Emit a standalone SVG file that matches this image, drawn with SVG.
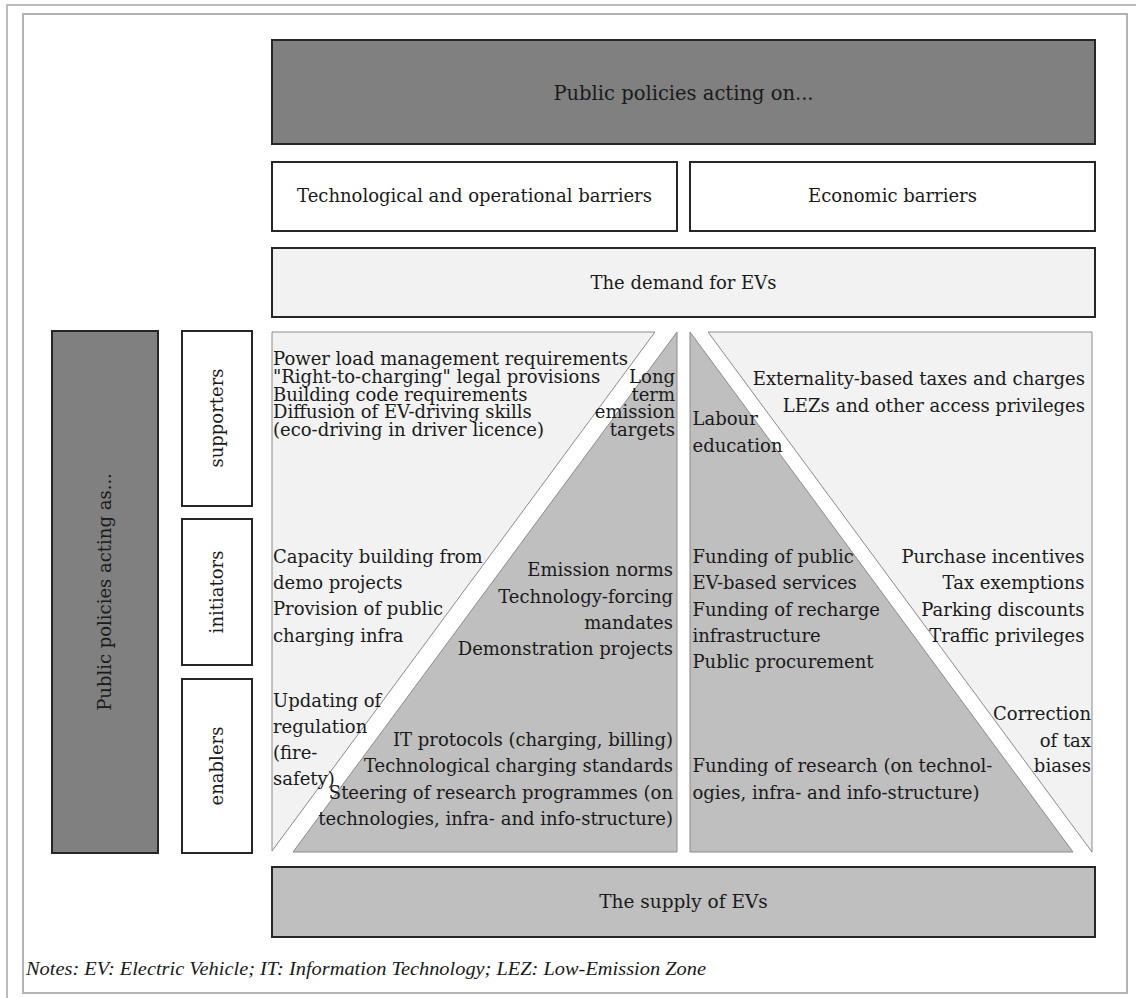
<svg xmlns="http://www.w3.org/2000/svg" width="1136" height="998" viewBox="0 0 1136 998">
<style>
.box{stroke:#262626;stroke-width:2}
.dark{fill:#808080}
.mid{fill:#bfbfbf}
.light{fill:#f2f2f2}
.white{fill:#ffffff}
.pl{fill:#f2f2f2;stroke:#8a8a8a;stroke-width:1}
.pd{fill:#bfbfbf;stroke:#8a8a8a;stroke-width:1}
text{font-family:"DejaVu Serif","Liberation Serif",serif;font-size:18px;fill:#1a1a1a}
.c{text-anchor:middle}
.r{text-anchor:end}
.big{font-size:19.5px}
.sup{font-size:18.5px}
.note{font-family:"Liberation Serif",serif;font-style:italic;font-size:18px}
</style>
<rect x="7" y="5" width="1140" height="1000" fill="#ffffff" stroke="#a6a6a6" stroke-width="1.5"/>
<rect x="23" y="14" width="1104" height="979" fill="#ffffff" stroke="#b3b3b3" stroke-width="2"/>

<g id="policies-on">
<rect class="box dark" x="272" y="40" width="823" height="104"/>
<text class="c big" x="683.5" y="99.5">Public policies acting on...</text>
</g>
<g id="tech-barriers">
<rect class="box white" x="272" y="162" width="405" height="69"/>
<text class="c" x="474.5" y="202">Technological and operational barriers</text>
</g>
<g id="econ-barriers">
<rect class="box white" x="690" y="162" width="405" height="69"/>
<text class="c" x="892.5" y="202">Economic barriers</text>
</g>
<g id="demand">
<rect class="box light" x="272" y="248" width="823" height="69"/>
<text class="c" x="683.5" y="288.5">The demand for EVs</text>
</g>

<g id="policies-as">
<rect class="box dark" x="52" y="331" width="106" height="522"/>
<text class="c" transform="translate(111,592) rotate(-90)">Public policies acting as...</text>
</g>
<g id="supporters">
<rect class="box white" x="182" y="331" width="70" height="175"/>
<text class="c" transform="translate(223,418) rotate(-90)">supporters</text>
</g>
<g id="initiators">
<rect class="box white" x="182" y="519" width="70" height="146"/>
<text class="c" transform="translate(223,592) rotate(-90)">initiators</text>
</g>
<g id="enablers">
<rect class="box white" x="182" y="679" width="70" height="174"/>
<text class="c" transform="translate(223,766) rotate(-90)">enablers</text>
</g>

<g id="left-panel">
<polygon class="pl" points="272,332 655,332 272,851"/>
<polygon class="pd" points="677,332 677,852 293,852"/>
<text x="273" y="365">Power load management requirements</text>
<text x="273" y="383">"Right-to-charging" legal provisions</text>
<text x="273" y="400.5">Building code requirements</text>
<text x="273" y="418">Diffusion of EV-driving skills</text>
<text x="273" y="435.5">(eco-driving in driver licence)</text>
<text class="r" x="675" y="383">Long</text>
<text class="r" x="675" y="400.5">term</text>
<text class="r" x="675" y="418">emission</text>
<text class="r" x="675" y="435.5">targets</text>
<text x="273" y="563">Capacity building from</text>
<text x="273" y="589">demo projects</text>
<text x="273" y="615">Provision of public</text>
<text x="273" y="641.5">charging infra</text>
<text class="r" x="673" y="576">Emission norms</text>
<text class="r" x="673" y="602.5">Technology-forcing</text>
<text class="r" x="673" y="628.5">mandates</text>
<text class="r" x="673" y="655">Demonstration projects</text>
<text x="273" y="706.5">Updating of</text>
<text x="273" y="732.5">regulation</text>
<text x="273" y="758.5">(fire-</text>
<text x="273" y="785">safety)</text>
<text class="r" x="673" y="746">IT protocols (charging, billing)</text>
<text class="r" x="673" y="772">Technological charging standards</text>
<text class="r" x="673" y="798.5">Steering of research programmes (on</text>
<text class="r" x="673" y="825">technologies, infra- and info-structure)</text>
</g>

<g id="right-panel">
<polygon class="pd" points="690,332 690,852 1073,852"/>
<polygon class="pl" points="708,332 1092,332 1092,852"/>
<text class="r" x="1085" y="385">Externality-based taxes and charges</text>
<text class="r" x="1085" y="411.5">LEZs and other access privileges</text>
<text x="692.5" y="425">Labour</text>
<text x="692.5" y="451.5">education</text>
<text x="692.5" y="563">Funding of public</text>
<text x="692.5" y="589">EV-based services</text>
<text x="692.5" y="616">Funding of recharge</text>
<text x="692.5" y="641.5">infrastructure</text>
<text x="692.5" y="668">Public procurement</text>
<text class="r" x="1084.5" y="563">Purchase incentives</text>
<text class="r" x="1084.5" y="589">Tax exemptions</text>
<text class="r" x="1084.5" y="616">Parking discounts</text>
<text class="r" x="1084.5" y="641.5">Traffic privileges</text>
<text class="r" x="1091" y="720">Correction</text>
<text class="r" x="1091" y="746.5">of tax</text>
<text class="r" x="1091" y="772">biases</text>
<text x="692.5" y="772">Funding of research (on technol-</text>
<text x="692.5" y="798.5">ogies, infra- and info-structure)</text>
</g>

<g id="supply">
<rect class="box mid" x="272" y="867" width="823" height="70"/>
<text class="c sup" x="683.5" y="908">The supply of EVs</text>
</g>

<g id="connectors"/>

<text class="note" x="26" y="975" textLength="680" lengthAdjust="spacingAndGlyphs">Notes: EV: Electric Vehicle; IT: Information Technology; LEZ: Low-Emission Zone</text>
</svg>
